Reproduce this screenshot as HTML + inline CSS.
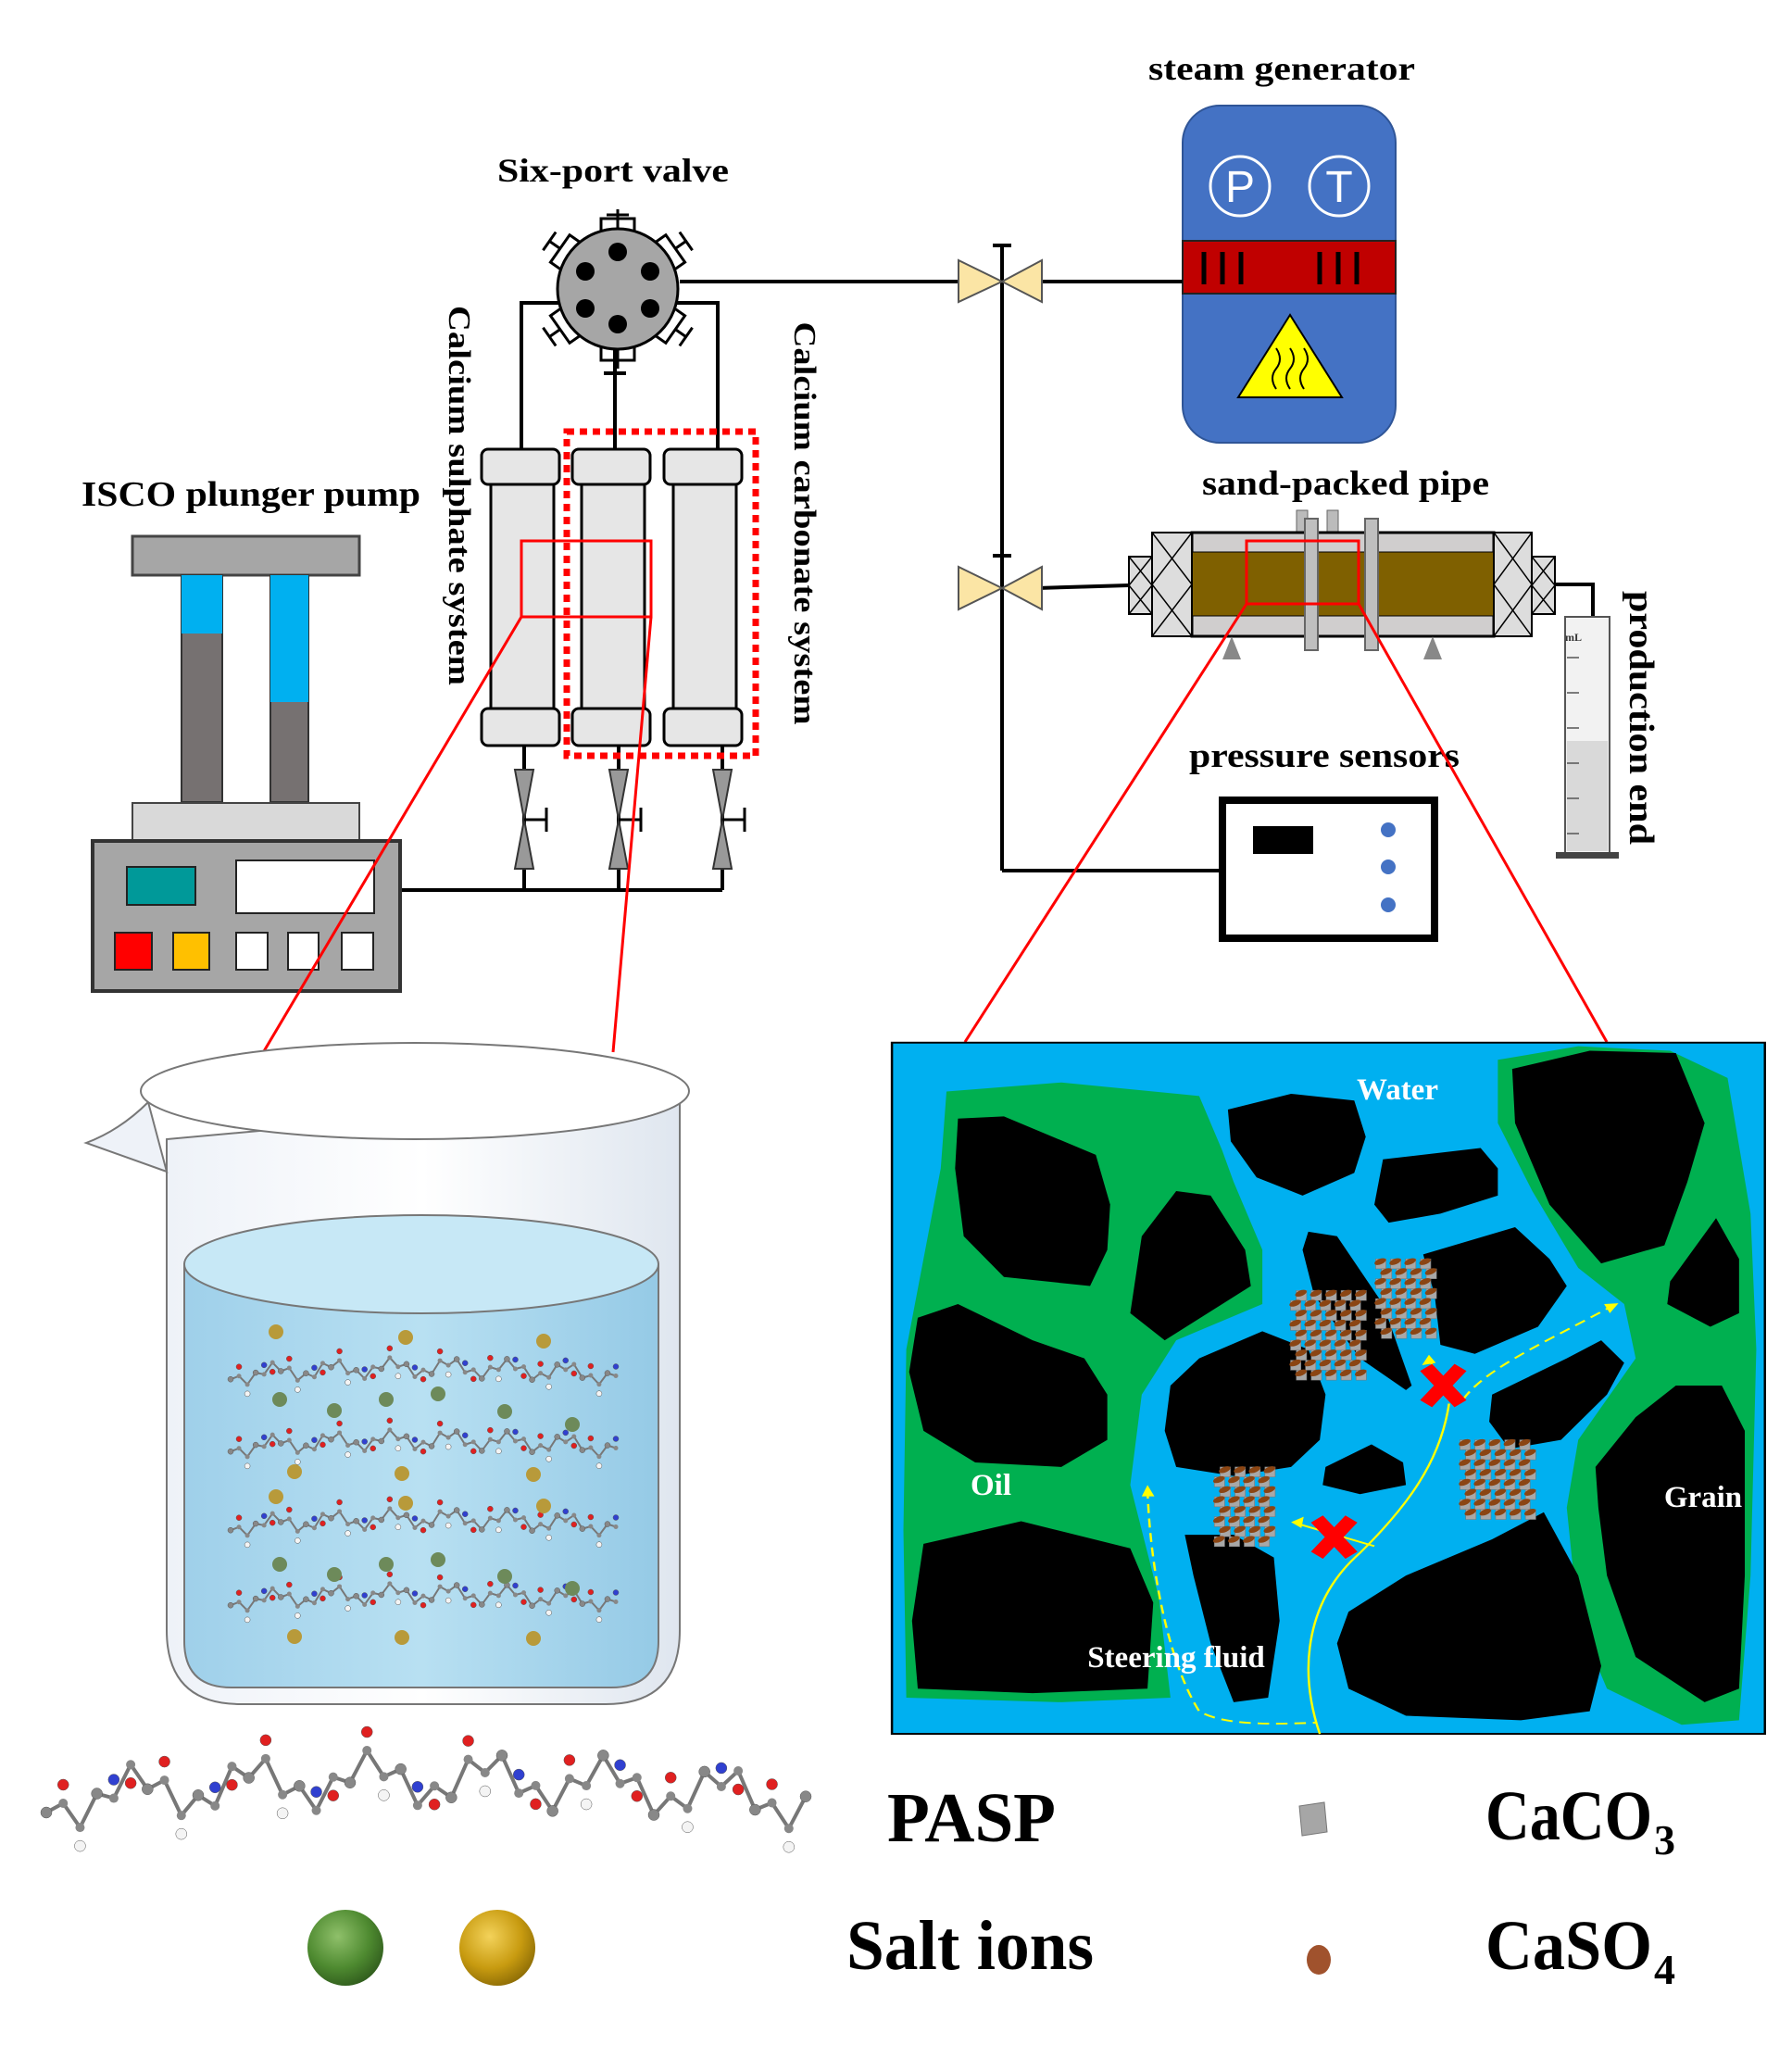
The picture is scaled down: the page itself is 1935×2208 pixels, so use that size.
<!DOCTYPE html>
<html><head><meta charset="utf-8"><style>
html,body{margin:0;padding:0;background:#fff}
svg{display:block}
text{font-family:"Liberation Serif",serif;font-weight:bold}
</style></head><body>
<svg width="1935" height="2208" viewBox="0 0 1935 2208" xmlns="http://www.w3.org/2000/svg">
<defs>
<radialGradient id="gg" cx="0.4" cy="0.35" r="0.7"><stop offset="0" stop-color="#8fc06a"/><stop offset="0.6" stop-color="#4e8a30"/><stop offset="1" stop-color="#2f5a1c"/></radialGradient>
<radialGradient id="yg" cx="0.4" cy="0.35" r="0.7"><stop offset="0" stop-color="#f3d25a"/><stop offset="0.6" stop-color="#c89b10"/><stop offset="1" stop-color="#8a6a05"/></radialGradient>
<linearGradient id="bk" x1="0" x2="1"><stop offset="0" stop-color="#eef2f8"/><stop offset="0.5" stop-color="#ffffff"/><stop offset="1" stop-color="#dfe6ef"/></linearGradient>
<linearGradient id="wt" x1="0" x2="1"><stop offset="0" stop-color="#9fd0ea"/><stop offset="0.5" stop-color="#b8e0f2"/><stop offset="1" stop-color="#95cae6"/></linearGradient>
</defs>

<text x="662" y="196" font-size="36" text-anchor="middle" textLength="250" lengthAdjust="spacingAndGlyphs">Six-port valve</text>
<text x="1384" y="86" font-size="36" text-anchor="middle" textLength="288" lengthAdjust="spacingAndGlyphs">steam generator</text>
<text x="271" y="546" font-size="38" text-anchor="middle" textLength="366" lengthAdjust="spacingAndGlyphs">ISCO plunger pump</text>
<text x="1453" y="534" font-size="37" text-anchor="middle" textLength="310" lengthAdjust="spacingAndGlyphs">sand-packed pipe</text>
<text x="1430" y="828" font-size="37" text-anchor="middle" textLength="292" lengthAdjust="spacingAndGlyphs">pressure sensors</text>
<text transform="translate(485,535) rotate(90)" font-size="34" text-anchor="middle" textLength="410" lengthAdjust="spacingAndGlyphs">Calcium sulphate system</text>
<text transform="translate(858,565) rotate(90)" font-size="34" text-anchor="middle" textLength="435" lengthAdjust="spacingAndGlyphs">Calcium carbonate system</text>
<text transform="translate(1760,775) rotate(90)" font-size="38" text-anchor="middle" textLength="274" lengthAdjust="spacingAndGlyphs">production end</text>

<rect x="1277" y="114" width="230" height="364" rx="40" fill="#4472c4" stroke="#2f5597" stroke-width="2"/>
<rect x="1277" y="260" width="230" height="57" fill="#c00000" stroke="#222" stroke-width="2"/>
<g stroke="#000" stroke-width="5"><line x1="1300" y1="272" x2="1300" y2="307"/><line x1="1320" y1="272" x2="1320" y2="307"/><line x1="1340" y1="272" x2="1340" y2="307"/><line x1="1425" y1="272" x2="1425" y2="307"/><line x1="1445" y1="272" x2="1445" y2="307"/><line x1="1465" y1="272" x2="1465" y2="307"/></g>
<circle cx="1339" cy="201" r="32" fill="none" stroke="#fff" stroke-width="3"/>
<circle cx="1446" cy="201" r="32" fill="none" stroke="#fff" stroke-width="3"/>
<text x="1339" y="218" font-size="48" fill="#fff" text-anchor="middle" style="font-family:'Liberation Sans',sans-serif;font-weight:normal">P</text>
<text x="1446" y="218" font-size="48" fill="#fff" text-anchor="middle" style="font-family:'Liberation Sans',sans-serif;font-weight:normal">T</text>
<polygon points="1393,340 1337,429 1449,429" fill="#ffff00" stroke="#000" stroke-width="2"/>
<path d="M1378 420 q-8 -12 0 -22 q8 -10 0 -22 M1393 420 q-8 -12 0 -22 q8 -10 0 -22 M1408 420 q-8 -12 0 -22 q8 -10 0 -22" fill="none" stroke="#000" stroke-width="2"/>

<g stroke="#000" stroke-width="4" fill="none">
<line x1="734" y1="304" x2="1277" y2="304"/>
<line x1="1082" y1="265" x2="1082" y2="940"/>
<line x1="1072" y1="265" x2="1092" y2="265"/>
<line x1="1072" y1="600" x2="1092" y2="600"/>
<line x1="1082" y1="940" x2="1316" y2="940"/>
<line x1="1120" y1="635" x2="1219" y2="632"/>
<polyline points="1679,631 1720,631 1720,690"/>
<polyline points="563,485 563,327 775,327 775,485"/>
<line x1="664" y1="375" x2="664" y2="485"/>
<line x1="652" y1="403" x2="676" y2="403"/>
<line x1="432" y1="961" x2="780" y2="961"/>
<line x1="566" y1="805" x2="566" y2="961"/>
<line x1="668" y1="805" x2="668" y2="961"/>
<line x1="780" y1="805" x2="780" y2="961"/>
</g>
<g fill="#fbe5a5" stroke="#555" stroke-width="2">
<polygon points="1035,281 1082,304 1035,326"/><polygon points="1125,281 1082,304 1125,326"/>
<polygon points="1035,612 1082,635 1035,658"/><polygon points="1125,612 1082,635 1125,658"/>
</g>

<g stroke="#000" stroke-width="3" fill="none">
<rect x="649" y="236" width="36" height="16"/><line x1="667" y1="226" x2="667" y2="250"/><line x1="655" y1="232" x2="679" y2="232"/>
<rect x="649" y="373" width="36" height="16"/><line x1="667" y1="378" x2="667" y2="398"/>
<g transform="rotate(-55 667 312)"><rect x="649" y="236" width="36" height="16"/><line x1="667" y1="222" x2="667" y2="236"/><line x1="655" y1="222" x2="679" y2="222"/></g>
<g transform="rotate(55 667 312)"><rect x="649" y="236" width="36" height="16"/><line x1="667" y1="222" x2="667" y2="236"/><line x1="655" y1="222" x2="679" y2="222"/></g>
<g transform="rotate(-125 667 312)"><rect x="649" y="236" width="36" height="16"/><line x1="667" y1="222" x2="667" y2="236"/><line x1="655" y1="222" x2="679" y2="222"/></g>
<g transform="rotate(125 667 312)"><rect x="649" y="236" width="36" height="16"/><line x1="667" y1="222" x2="667" y2="236"/><line x1="655" y1="222" x2="679" y2="222"/></g>
</g>
<circle cx="667" cy="312" r="65" fill="#a6a6a6" stroke="#000" stroke-width="3"/>
<g fill="#000"><circle cx="667" cy="272" r="10"/><circle cx="667" cy="350" r="10"/><circle cx="632" cy="293" r="10"/><circle cx="702" cy="293" r="10"/><circle cx="632" cy="333" r="10"/><circle cx="702" cy="333" r="10"/></g>

<g stroke="#000" stroke-width="3" fill="#e6e6e6">
<rect x="530" y="520" width="68" height="250"/><rect x="628" y="520" width="68" height="250"/><rect x="727" y="520" width="68" height="250"/>
<rect x="520" y="485" width="84" height="38" rx="7"/><rect x="618" y="485" width="84" height="38" rx="7"/><rect x="717" y="485" width="84" height="38" rx="7"/>
<rect x="520" y="765" width="84" height="40" rx="7"/><rect x="618" y="765" width="84" height="40" rx="7"/><rect x="717" y="765" width="84" height="40" rx="7"/>
</g>
<rect x="612" y="466" width="204" height="350" fill="none" stroke="#f00" stroke-width="7" stroke-dasharray="8,6"/>
<rect x="563" y="584" width="140" height="82" fill="none" stroke="#f00" stroke-width="3"/>
<g fill="#999" stroke="#333" stroke-width="2">
<polygon points="556,831 576,831 566,885"/><polygon points="556,938 576,938 566,885"/>
<polygon points="658,831 678,831 668,885"/><polygon points="658,938 678,938 668,885"/>
<polygon points="770,831 790,831 780,885"/><polygon points="770,938 790,938 780,885"/>
</g>
<g stroke="#000" stroke-width="3"><line x1="566" y1="885" x2="590" y2="885"/><line x1="590" y1="872" x2="590" y2="898"/><line x1="668" y1="885" x2="692" y2="885"/><line x1="692" y1="872" x2="692" y2="898"/><line x1="780" y1="885" x2="804" y2="885"/><line x1="804" y1="872" x2="804" y2="898"/></g>

<rect x="143" y="579" width="245" height="42" fill="#a6a6a6" stroke="#444" stroke-width="3"/>
<rect x="196" y="621" width="44" height="245" fill="#767171" stroke="#333" stroke-width="2"/>
<rect x="196" y="621" width="44" height="63" fill="#00b0f0"/>
<rect x="292" y="621" width="41" height="245" fill="#767171" stroke="#333" stroke-width="2"/>
<rect x="292" y="621" width="41" height="137" fill="#00b0f0"/>
<rect x="143" y="867" width="245" height="41" fill="#d9d9d9" stroke="#444" stroke-width="2"/>
<rect x="100" y="908" width="332" height="162" fill="#a6a6a6" stroke="#333" stroke-width="4"/>
<rect x="137" y="936" width="74" height="41" fill="#009999" stroke="#222" stroke-width="2"/>
<rect x="255" y="929" width="149" height="57" fill="#fff" stroke="#222" stroke-width="2"/>
<rect x="124" y="1007" width="40" height="40" fill="#f00" stroke="#222" stroke-width="2"/>
<rect x="187" y="1007" width="39" height="40" fill="#ffc000" stroke="#222" stroke-width="2"/>
<rect x="255" y="1007" width="34" height="40" fill="#fff" stroke="#222" stroke-width="2"/>
<rect x="311" y="1007" width="33" height="40" fill="#fff" stroke="#222" stroke-width="2"/>
<rect x="369" y="1007" width="34" height="40" fill="#fff" stroke="#222" stroke-width="2"/>

<rect x="1400" y="551" width="12" height="36" fill="#bbb" stroke="#666"/>
<rect x="1433" y="551" width="12" height="36" fill="#bbb" stroke="#666"/>
<rect x="1219" y="601" width="25" height="62" fill="#ddd" stroke="#000" stroke-width="2"/>
<rect x="1654" y="601" width="25" height="62" fill="#ddd" stroke="#000" stroke-width="2"/>
<rect x="1287" y="575" width="326" height="112" fill="#d0cece" stroke="#000" stroke-width="3"/>
<rect x="1287" y="596" width="326" height="69" fill="#7f6000" stroke="#000" stroke-width="1"/>
<rect x="1244" y="575" width="43" height="112" fill="#ddd" stroke="#000" stroke-width="2"/>
<rect x="1613" y="575" width="41" height="112" fill="#ddd" stroke="#000" stroke-width="2"/>
<g stroke="#000" stroke-width="1.5" fill="none"><path d="M1244 575 L1287 631 L1244 687 M1287 575 L1244 631 L1287 687 M1613 575 L1654 631 L1613 687 M1654 575 L1613 631 L1654 687 M1219 601 L1244 632 L1219 663 M1244 601 L1219 632 L1244 663 M1654 601 L1679 632 L1654 663 M1679 601 L1654 632 L1679 663"/></g>
<rect x="1409" y="560" width="14" height="142" fill="#bfbfbf" stroke="#666" stroke-width="2"/>
<rect x="1474" y="560" width="14" height="142" fill="#bfbfbf" stroke="#666" stroke-width="2"/>
<polygon points="1330,687 1320,712 1340,712" fill="#888"/><polygon points="1547,687 1537,712 1557,712" fill="#888"/>
<rect x="1346" y="584" width="121" height="68" fill="none" stroke="#f00" stroke-width="3"/>

<rect x="1690" y="666" width="48" height="255" fill="#f2f2f2" stroke="#555" stroke-width="2"/>
<rect x="1692" y="800" width="44" height="119" fill="#d9d9d9"/>
<rect x="1680" y="920" width="68" height="7" fill="#444"/>
<g stroke="#555" stroke-width="1.5"><line x1="1692" y1="710" x2="1705" y2="710"/><line x1="1692" y1="748" x2="1705" y2="748"/><line x1="1692" y1="786" x2="1705" y2="786"/><line x1="1692" y1="824" x2="1705" y2="824"/><line x1="1692" y1="862" x2="1705" y2="862"/><line x1="1692" y1="900" x2="1705" y2="900"/></g>
<text x="1690" y="692" font-size="12" fill="#333">mL</text>

<rect x="1320" y="864" width="229" height="149" fill="#fff" stroke="#000" stroke-width="8"/>
<rect x="1353" y="892" width="65" height="30" fill="#000"/>
<circle cx="1499" cy="896" r="8" fill="#4472c4"/><circle cx="1499" cy="936" r="8" fill="#4472c4"/><circle cx="1499" cy="977" r="8" fill="#4472c4"/>

<g stroke="#f00" stroke-width="3">
<line x1="563" y1="666" x2="285" y2="1135"/>
<line x1="703" y1="666" x2="662" y2="1136"/>
<line x1="1346" y1="652" x2="1042" y2="1125"/>
<line x1="1467" y1="652" x2="1735" y2="1125"/>
</g>

<path d="M180 1230 L180 1760 Q180 1840 260 1840 L654 1840 Q734 1840 734 1760 L734 1180 Z" fill="url(#bk)" stroke="#777" stroke-width="2"/>
<path d="M160 1190 Q130 1220 93 1234 L180 1265 Z" fill="#eef2f8" stroke="#777" stroke-width="2"/>
<ellipse cx="448" cy="1178" rx="296" ry="52" fill="#fff" stroke="#777" stroke-width="2"/>
<path d="M199 1365 L199 1772 Q199 1822 250 1822 L660 1822 Q711 1822 711 1772 L711 1365 Z" fill="url(#wt)" stroke="#777" stroke-width="2"/>
<ellipse cx="455" cy="1365" rx="256" ry="53" fill="#c7e8f6" stroke="#777" stroke-width="2"/>
<g id="mol"></g>
<g fill="#b89a3a"><circle cx="298" cy="1438" r="8"/><circle cx="438" cy="1444" r="8"/><circle cx="587" cy="1448" r="8"/>
<circle cx="318" cy="1589" r="8"/><circle cx="434" cy="1591" r="8"/><circle cx="576" cy="1592" r="8"/>
<circle cx="298" cy="1616" r="8"/><circle cx="438" cy="1623" r="8"/><circle cx="587" cy="1626" r="8"/>
<circle cx="318" cy="1767" r="8"/><circle cx="434" cy="1768" r="8"/><circle cx="576" cy="1769" r="8"/></g>
<g fill="#6d8a5a"><circle cx="302" cy="1511" r="8"/><circle cx="361" cy="1523" r="8"/><circle cx="417" cy="1511" r="8"/><circle cx="473" cy="1505" r="8"/><circle cx="545" cy="1524" r="8"/><circle cx="618" cy="1538" r="8"/>
<circle cx="302" cy="1689" r="8"/><circle cx="361" cy="1700" r="8"/><circle cx="417" cy="1689" r="8"/><circle cx="473" cy="1684" r="8"/><circle cx="545" cy="1702" r="8"/><circle cx="618" cy="1715" r="8"/></g>

<svg x="960" y="1115" width="960" height="760" viewBox="0 0 1548 1556" preserveAspectRatio="none">
<rect x="5" y="22" width="1520" height="1528" fill="#00b0f0" stroke="#000" stroke-width="4"/>
<g fill="#00b050">
<polygon points="100,130 300,110 540,140 580,260 600,330 650,480 650,600 500,680 440,800 420,1000 470,1250 490,1470 300,1480 30,1470 25,1100 30,700 60,500 90,300"/>
<polygon points="1060,60 1200,30 1360,40 1460,100 1500,400 1510,700 1500,1200 1480,1520 1380,1530 1250,1450 1200,1300 1180,1050 1200,900 1300,720 1280,600 1200,520 1120,350 1060,200"/>
</g>
<g fill="#000">
<polygon points="120,190 200,185 360,270 385,380 380,480 350,560 200,540 130,450 115,300"/>
<polygon points="500,350 560,360 620,480 630,560 480,680 420,620 440,450"/>
<polygon points="590,170 700,135 810,150 830,230 810,310 720,360 640,320 595,240"/>
<polygon points="860,280 1030,255 1060,300 1060,360 960,400 870,420 845,380"/>
<polygon points="1085,80 1220,40 1370,45 1420,200 1390,330 1350,470 1240,510 1150,380 1090,200"/>
<polygon points="1360,550 1440,410 1480,500 1480,620 1430,650 1355,600"/>
<polygon points="50,630 120,600 250,680 340,720 380,800 380,900 300,960 150,950 60,880 35,750"/>
<polygon points="60,1130 230,1080 420,1140 460,1260 450,1450 250,1460 50,1450 40,1300"/>
<polygon points="730,440 780,450 860,600 910,780 900,790 820,720 740,580 720,480"/>
<polygon points="540,720 650,660 730,700 760,800 750,900 700,960 600,980 500,960 480,880 490,780"/>
<polygon points="930,490 1090,430 1150,500 1180,560 1130,650 1020,710 960,690 950,580"/>
<polygon points="1050,800 1180,720 1240,680 1280,730 1250,800 1170,900 1080,920 1045,860"/>
<polygon points="760,960 840,910 895,950 900,1000 820,1020 755,1000"/>
<polygon points="515,1110 600,1110 670,1160 680,1300 660,1470 600,1480 560,1350 530,1200"/>
<polygon points="800,1280 900,1200 1050,1120 1140,1060 1200,1200 1240,1400 1220,1500 1100,1520 900,1510 800,1450 780,1350"/>
<polygon points="1230,960 1300,850 1370,780 1450,780 1490,880 1490,1200 1480,1450 1420,1480 1300,1380 1250,1200 1235,1050"/>
</g>
<g id="scales"></g>
<g fill="none" stroke="#ffff00" stroke-width="4">
<path d="M750 1550 C710 1400 730 1250 820 1150 C900 1050 960 950 975 820"/>
<path d="M450 1010 C455 1200 490 1400 540 1500 C580 1530 660 1530 745 1525" stroke-dasharray="20,12"/>
<path d="M1000 810 C1040 740 1150 680 1265 600" stroke-dasharray="20,12"/>
<line x1="970" y1="800" x2="940" y2="720"/>
<line x1="845" y1="1135" x2="710" y2="1085"/>
</g>
<g fill="#ffff00"><polygon points="940,712 928,735 952,730"/><polygon points="700,1082 722,1070 718,1095"/><polygon points="1270,598 1245,600 1255,620"/><polygon points="450,1000 440,1025 462,1025"/></g>
<g stroke="#f00" stroke-width="26"><line x1="935" y1="740" x2="995" y2="820"/><line x1="995" y1="740" x2="935" y2="820"/><line x1="745" y1="1075" x2="805" y2="1155"/><line x1="805" y1="1075" x2="745" y2="1155"/></g>
</svg>
<g fill="#fff" font-size="33">
<text x="1509" y="1187" text-anchor="middle">Water</text>
<text x="1070" y="1614" text-anchor="middle">Oil</text>
<text x="1839" y="1627" text-anchor="middle">Grain</text>
<text x="1270" y="1800" text-anchor="middle">Steering fluid</text>
</g>

<g id="mol2"></g>
<text x="958" y="1988" font-size="76" textLength="182" lengthAdjust="spacingAndGlyphs">PASP</text>
<text x="1604" y="1986" font-size="76" textLength="180" lengthAdjust="spacingAndGlyphs">CaCO</text><text x="1786" y="2002" font-size="46">3</text>
<text x="914" y="2126" font-size="76" textLength="267" lengthAdjust="spacingAndGlyphs">Salt ions</text>
<text x="1604" y="2126" font-size="76" textLength="180" lengthAdjust="spacingAndGlyphs">CaSO</text><text x="1786" y="2142" font-size="46">4</text>
<ellipse cx="373" cy="2103" rx="41" ry="41" fill="url(#gg)"/>
<ellipse cx="537" cy="2103" rx="41" ry="41" fill="url(#yg)"/>
<polygon points="1403,1950 1430,1946 1433,1978 1406,1982" fill="#a6a6a6" stroke="#777"/>
<ellipse cx="1424" cy="2116" rx="13" ry="16" fill="#a0522d"/>
</svg>
<script>
(function(){
var NS="http://www.w3.org/2000/svg";
function el(n,a,p){var e=document.createElementNS(NS,n);for(var k in a)e.setAttribute(k,a[k]);p.appendChild(e);return e;}
function chain(g,x0,x1,y,amp,scale){
 var n=Math.floor((x1-x0)/(9*scale));
 var pts=[];for(var i=0;i<=n;i++){var x=x0+i*(x1-x0)/n;var yy=y+Math.sin(i*0.9)*amp*0.5+((i%2)?-amp*0.3:amp*0.3)-Math.sin(i/n*Math.PI)*amp*0.6;pts.push([x,yy]);}
 el("polyline",{points:pts.map(function(p){return p.join(",")}).join(" "),fill:"none",stroke:"#777","stroke-width":2*scale},g);
 for(var i=0;i<pts.length;i++){var col=["#888","#e02020","#f4f4f4","#888","#3040d0","#e02020"][i%6];var dy=(i%3==1)?-10*scale:((i%3==2)?10*scale:0);
 el("circle",{cx:pts[i][0],cy:pts[i][1]+dy,r:3*scale,fill:col,stroke:"#555","stroke-width":0.5},g);
 el("circle",{cx:pts[i][0],cy:pts[i][1],r:2.5*scale,fill:"#888"},g);}
}
var g=document.getElementById("mol");[1485,1563,1648,1729].forEach(function(y){chain(g,249,665,y,14,1);});
chain(document.getElementById("mol2"),50,870,1945,40,2);
var s=document.getElementById("scales");
[[690,570,130,180],[840,500,110,160],[560,960,105,170],[985,900,135,170]].forEach(function(b){
 for(var yy=b[1];yy<b[1]+b[3];yy+=22){for(var xx=b[0]+((yy/22)%2)*10;xx<b[0]+b[2];xx+=26){
  el("rect",{x:xx,y:yy,width:18,height:22,fill:"#a8a8a8",stroke:"#777","stroke-width":1},s);
  el("ellipse",{cx:xx+8,cy:yy+6,rx:11,ry:6,fill:"#8b4513",transform:"rotate(-30 "+(xx+8)+" "+(yy+6)+")"},s);
 }}
});
})();
</script>
</body></html>
